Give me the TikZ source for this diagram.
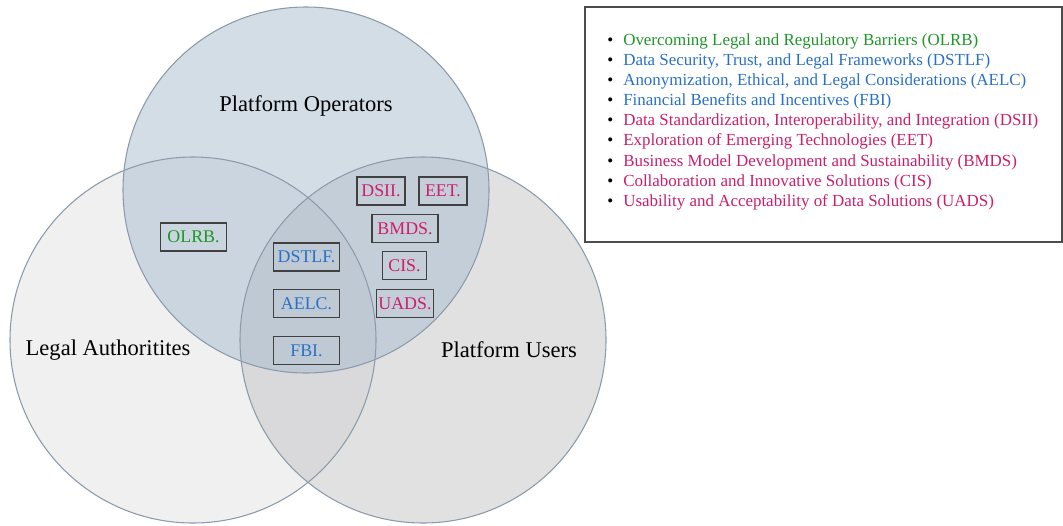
\documentclass[tikz,border=0pt]{standalone}
\usepackage{fontspec}
\setmainfont{Liberation Serif}

\definecolor{lawfill}{RGB}{225,225,226}
\definecolor{userfill}{RGB}{196,196,198}
\definecolor{opsfill}{RGB}{165,187,206}
\definecolor{ring}{RGB}{140,155,170}
\definecolor{legalgreen}{RGB}{30,150,40}
\definecolor{trustblue}{RGB}{40,112,200}
\definecolor{bizpink}{RGB}{205,30,105}

\tikzset{
  setname/.style={font=\fontsize{16.9pt}{20pt}\selectfont},
  code/.style={draw=black!75, line width=.9pt, minimum height=21pt,
    inner xsep=1.5pt, inner ysep=0pt, font=\fontsize{13.4pt}{16pt}\selectfont},
  entry/.style={anchor=west, inner sep=0pt, font=\fontsize{12.7pt}{15pt}\selectfont},
  legend/.style={draw=black!70, line width=1pt, minimum width=357.75pt, minimum height=176.25pt}
}

\newcommand{\keydot}{\makebox[12pt][l]{\color{black}\textbullet}}

\begin{document}
\begin{tikzpicture}[x=0.75pt,y=-0.75pt]
        \useasboundingbox (0,0) rectangle (1063,525);

        % the three sets
        \begin{scope}[fill opacity=.5]
          \fill[lawfill]  (193,340) circle (183);
          \fill[userfill] (423,340) circle (183);
          \fill[opsfill]  (306,190) circle (183);
        \end{scope}
        \begin{scope}[draw=ring, line width=.8pt]
          \draw (193,340) circle (183);
          \draw (423,340) circle (183);
          \draw (306,190) circle (183);
        \end{scope}

        \node[setname] (ops)   at (306,106) {Platform Operators};
        \node[setname] (law)   at (108,350) {Legal Authoritites};
        \node[setname] (users) at (509,350) {Platform Users};

        % codes inside the sets
        \begin{scope}[every node/.style={code}]
          \node[text=legalgreen, minimum width=50pt] (olrb)  at (193.5,237) {OLRB.};
          \node[text=trustblue,  minimum width=50pt] (dstlf) at (306.5,257) {DSTLF.};
          \node[text=trustblue,  minimum width=50pt] (aelc)  at (306.5,303.5) {AELC.};
          \node[text=trustblue,  minimum width=50pt] (fbi)   at (306.5,350.5) {FBI.};
          \node[text=bizpink,    minimum width=36pt] (dsii)  at (381,191) {DSII.};
          \node[text=bizpink,    minimum width=36pt] (eet)   at (443,191) {EET.};
          \node[text=bizpink,    minimum width=49.5pt] (bmds) at (405,228.5) {BMDS.};
          \node[text=bizpink,    minimum width=33pt] (cis)   at (404.5,265.5) {CIS.};
          \node[text=bizpink,    minimum width=42pt] (uads)  at (405,303.5) {UADS.};
        \end{scope}

        % legend
        \node[legend] (key) at (823.5,124.5) {};
        \node[entry, text=legalgreen] (l1) at (607,41)  {\keydot Overcoming Legal and Regulatory Barriers (OLRB)};
        \node[entry, text=trustblue]  (l2) at (607,61)  {\keydot Data Security, Trust, and Legal Frameworks (DSTLF)};
        \node[entry, text=trustblue]  (l3) at (607,81)  {\keydot Anonymization, Ethical, and Legal Considerations (AELC)};
        \node[entry, text=trustblue]  (l4) at (607,101) {\keydot Financial Benefits and Incentives (FBI)};
        \node[entry, text=bizpink]    (l5) at (607,121) {\keydot Data Standardization, Interoperability, and Integration (DSII)};
        \node[entry, text=bizpink]    (l6) at (607,141) {\keydot Exploration of Emerging Technologies (EET)};
        \node[entry, text=bizpink]    (l7) at (607,162) {\keydot Business Model Development and Sustainability (BMDS)};
        \node[entry, text=bizpink]    (l8) at (607,182) {\keydot Collaboration and Innovative Solutions (CIS)};
        \node[entry, text=bizpink]    (l9) at (607,202) {\keydot Usability and Acceptability of Data Solutions (UADS)};

      \end{tikzpicture}
\end{document}
